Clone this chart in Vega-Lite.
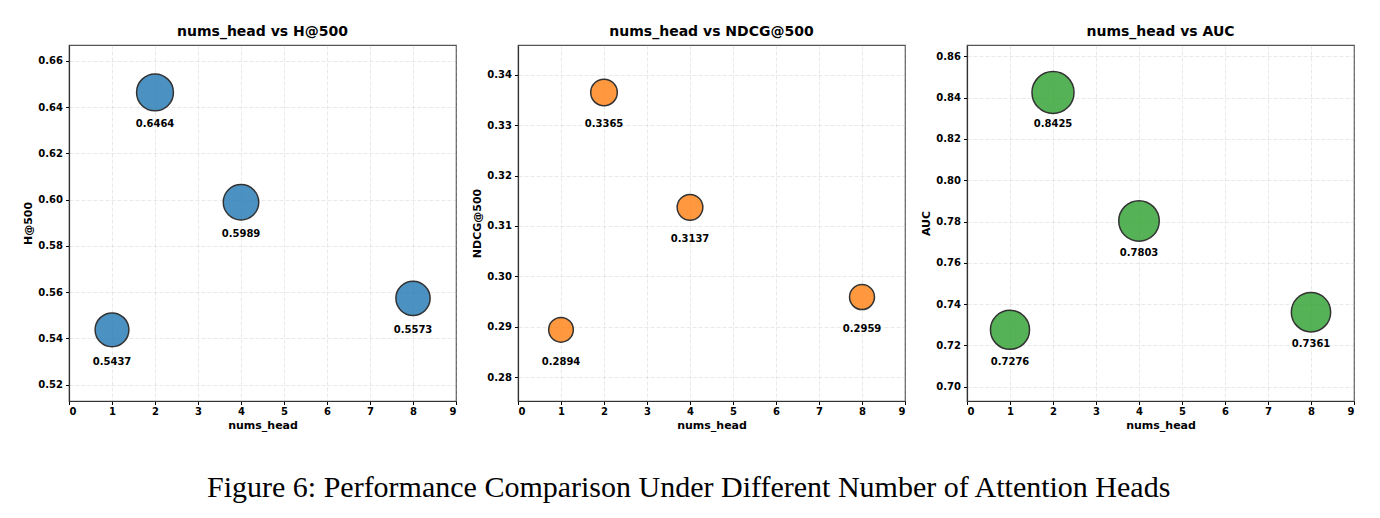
{
  "$schema": "https://vega.github.io/schema/vega-lite/v6.json",
  "background": "white",
  "padding": {"left": 22, "top": 24, "right": 10, "bottom": 5},
  "data": {
    "values": [
      {"metric": "H@500", "nums_head": 1, "value": 0.5437},
      {"metric": "H@500", "nums_head": 2, "value": 0.6464},
      {"metric": "H@500", "nums_head": 4, "value": 0.5989},
      {"metric": "H@500", "nums_head": 8, "value": 0.5573},
      {"metric": "NDCG@500", "nums_head": 1, "value": 0.2894},
      {"metric": "NDCG@500", "nums_head": 2, "value": 0.3365},
      {"metric": "NDCG@500", "nums_head": 4, "value": 0.3137},
      {"metric": "NDCG@500", "nums_head": 8, "value": 0.2959},
      {"metric": "AUC", "nums_head": 1, "value": 0.7276},
      {"metric": "AUC", "nums_head": 2, "value": 0.8425},
      {"metric": "AUC", "nums_head": 4, "value": 0.7803},
      {"metric": "AUC", "nums_head": 8, "value": 0.7361}
    ]
  },
  "title": {
    "text": "Figure 6: Performance Comparison Under Different Number of Attention Heads",
    "orient": "bottom",
    "anchor": "middle",
    "font": "Liberation Serif",
    "fontSize": 30,
    "fontWeight": "normal",
    "color": "black",
    "offset": 42
  },
  "bounds": "flush",
  "spacing": 62,
  "hconcat": [
    {
      "width": 387, "height": 356,
      "title": {"text": "nums_head vs H@500"},
      "transform": [{"filter": "datum.metric === 'H@500'"}],
      "encoding": {
        "x": {"field": "nums_head", "type": "quantitative", "scale": {"domain": [0, 9], "nice": false, "zero": false}, "axis": {"values": [0,1,2,3,4,5,6,7,8,9], "format": "d", "title": "nums_head", "labelFontSize": 10, "titleFontSize": 11}},
        "y": {"field": "value", "type": "quantitative", "scale": {"domain": [0.5129, 0.6669], "nice": false, "zero": false}, "axis": {"values": [0.52,0.54,0.56,0.58,0.60,0.62,0.64,0.66], "format": ".2f", "title": "H@500", "labelFontSize": 10, "titleFontSize": 11}}
      },
      "layer": [
        {
          "mark": {"type": "circle", "color": "#1f77b4", "opacity": 0.8, "stroke": "black", "strokeWidth": 1.5},
          "encoding": {"size": {"field": "value", "type": "quantitative", "scale": {"domain": [0, 1], "range": [0, 2100], "zero": true}, "legend": null}}
        },
        {
          "mark": {"type": "text", "dy": 32, "baseline": "middle", "font": "DejaVu Sans", "fontSize": 10, "fontWeight": "bold", "color": "black"},
          "encoding": {"text": {"field": "value", "type": "quantitative", "format": ".4f"}}
        }
      ]
    },
    {
      "width": 387, "height": 356,
      "title": {"text": "nums_head vs NDCG@500"},
      "transform": [{"filter": "datum.metric === 'NDCG@500'"}],
      "encoding": {
        "x": {"field": "nums_head", "type": "quantitative", "scale": {"domain": [0, 9], "nice": false, "zero": false}, "axis": {"values": [0,1,2,3,4,5,6,7,8,9], "format": "d", "title": "nums_head", "labelFontSize": 10, "titleFontSize": 11}},
        "y": {"field": "value", "type": "quantitative", "scale": {"domain": [0.27527, 0.34592], "nice": false, "zero": false}, "axis": {"values": [0.28,0.29,0.30,0.31,0.32,0.33,0.34], "format": ".2f", "title": "NDCG@500", "labelFontSize": 10, "titleFontSize": 11}}
      },
      "layer": [
        {
          "mark": {"type": "circle", "color": "#ff7f0e", "opacity": 0.8, "stroke": "black", "strokeWidth": 1.5},
          "encoding": {"size": {"field": "value", "type": "quantitative", "scale": {"domain": [0, 1], "range": [0, 2100], "zero": true}, "legend": null}}
        },
        {
          "mark": {"type": "text", "dy": 32, "baseline": "middle", "font": "DejaVu Sans", "fontSize": 10, "fontWeight": "bold", "color": "black"},
          "encoding": {"text": {"field": "value", "type": "quantitative", "format": ".4f"}}
        }
      ]
    },
    {
      "width": 387, "height": 356,
      "title": {"text": "nums_head vs AUC"},
      "transform": [{"filter": "datum.metric === 'AUC'"}],
      "encoding": {
        "x": {"field": "nums_head", "type": "quantitative", "scale": {"domain": [0, 9], "nice": false, "zero": false}, "axis": {"values": [0,1,2,3,4,5,6,7,8,9], "format": "d", "title": "nums_head", "labelFontSize": 10, "titleFontSize": 11}},
        "y": {"field": "value", "type": "quantitative", "scale": {"domain": [0.69313, 0.86548], "nice": false, "zero": false}, "axis": {"values": [0.70,0.72,0.74,0.76,0.78,0.80,0.82,0.84,0.86], "format": ".2f", "title": "AUC", "labelFontSize": 10, "titleFontSize": 11}}
      },
      "layer": [
        {
          "mark": {"type": "circle", "color": "#2ca02c", "opacity": 0.8, "stroke": "black", "strokeWidth": 1.5},
          "encoding": {"size": {"field": "value", "type": "quantitative", "scale": {"domain": [0, 1], "range": [0, 2100], "zero": true}, "legend": null}}
        },
        {
          "mark": {"type": "text", "dy": 32, "baseline": "middle", "font": "DejaVu Sans", "fontSize": 10, "fontWeight": "bold", "color": "black"},
          "encoding": {"text": {"field": "value", "type": "quantitative", "format": ".4f"}}
        }
      ]
    }
  ],
  "resolve": {"scale": {"size": "independent"}},
  "config": {
    "view": {"stroke": "#555", "strokeWidth": 1.2},
    "title": {"font": "DejaVu Sans", "fontSize": 14, "fontWeight": "bold", "color": "black", "offset": 6, "anchor": "middle"},
    "axis": {
      "labelFont": "DejaVu Sans", "labelFontWeight": "bold", "labelColor": "black",
      "titleFont": "DejaVu Sans", "titleFontWeight": "bold", "titleColor": "black",
      "tickColor": "black", "tickSize": 3.5, "tickWidth": 1,
      "domainColor": "#333", "domainWidth": 1.2,
      "grid": true, "gridColor": "#b0b0b0", "gridOpacity": 0.35, "gridDash": [4, 2], "gridWidth": 0.8,
      "labelPadding": 3
    },
    "axisX": {"titlePadding": 3, "labelPadding": 2},
    "axisY": {"titlePadding": 4}
  }
}
